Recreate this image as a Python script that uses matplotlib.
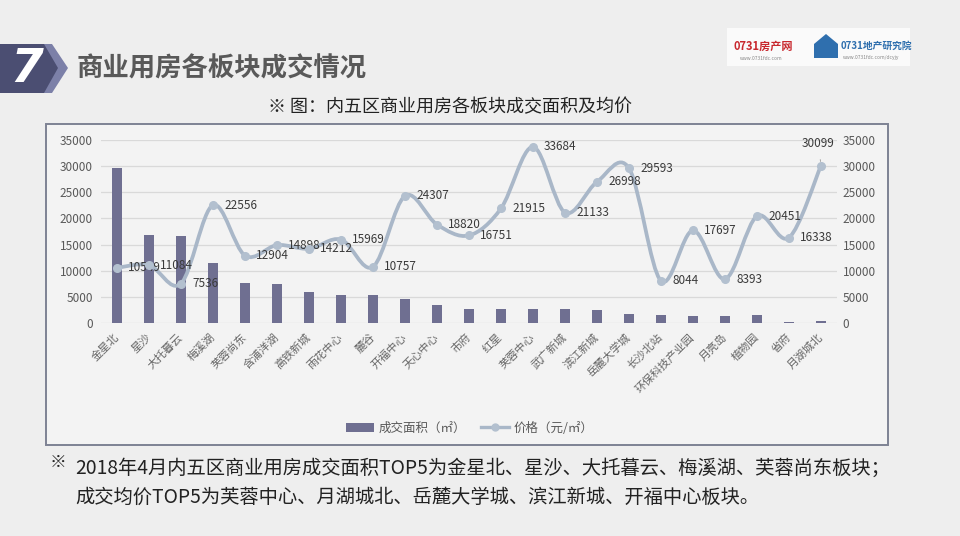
import matplotlib.pyplot as plt
import numpy as np
from matplotlib.path import Path
from matplotlib.patches import PathPatch, Rectangle, Polygon
from matplotlib.lines import Line2D

plt.rcParams['font.family'] = ['Noto Sans CJK SC', 'DejaVu Sans']

# data
areas = ['金星北', '星沙', '大托暮云', '梅溪湖', '芙蓉尚东', '含浦洋湖', '高铁新城',
         '雨花中心', '麓谷', '开福中心', '天心中心', '市府', '红星', '芙蓉中心',
         '武广新城', '滨江新城', '岳麓大学城', '长沙北站', '环保科技产业园',
         '月亮岛', '植物园', '省府', '月湖城北']
sold_area = [29600, 16800, 16600, 11500, 7600, 7400, 5900, 5300, 5300, 4600,
             3400, 2700, 2600, 2600, 2600, 2400, 1800, 1600, 1400, 1400, 1500,
             250, 300]
price = [10549, 11084, 7536, 22556, 12904, 14898, 14212, 15969, 10757, 24307,
         18820, 16751, 21915, 33684, 21133, 26998, 29593, 8044, 17697, 8393,
         20451, 16338, 30099]
y_ticks = [0, 5000, 10000, 15000, 20000, 25000, 30000, 35000]

BG = '#eeeeee'
BAR = '#6f6f91'
LINE = '#a9b7c8'
TXT = '#595959'

W, H = 960, 536
fig = plt.figure(figsize=(9.6, 5.36), dpi=100, facecolor=BG)

def px(x, y):
    return x / W, 1 - y / H

# chart frame
fig.patches.append(Rectangle(px(46, 445), 842 / W, 321 / H, transform=fig.transFigure,
                             facecolor='#f3f3f3', edgecolor='#7d8293', lw=1.4, zorder=-5))

# header badge
fig.patches.append(Polygon([px(0, 44), px(50, 44), px(66, 68), px(50, 93), px(0, 93)],
                           closed=True, transform=fig.transFigure,
                           facecolor='#4b4e72', edgecolor='none', zorder=-4))
fig.patches.append(Polygon([px(44, 44), px(52, 44), px(68, 68), px(52, 93), px(44, 93), px(58, 68)],
                           closed=True, transform=fig.transFigure,
                           facecolor='#7c80a8', edgecolor='none', zorder=-4))
fig.text(*px(27, 70), '7', color='white', fontsize=34, fontweight='bold', style='italic',
         ha='center', va='center', family='DejaVu Sans')
fig.text(*px(77, 69), '商业用房各板块成交情况', color=TXT, fontsize=19, fontweight='bold',
         ha='left', va='center')
fig.text(*px(450, 107), '※ 图：内五区商业用房各板块成交面积及均价', color='#222222',
         fontsize=13, ha='center', va='center')

# logos (approximation)
fig.patches.append(Rectangle(px(727, 66), 183 / W, 38 / H, transform=fig.transFigure,
                             facecolor='#fafafa', edgecolor='none', zorder=-4))
fig.text(*px(733, 46), '0731房产网', color='#c8282e', fontsize=8, fontweight='bold',
         ha='left', va='center')
fig.text(*px(740, 58), 'www.0731fdc.com', color='#888888', fontsize=3.5, ha='left', va='center')
fig.patches.append(Polygon([px(814, 58), px(814, 44), px(826, 34), px(838, 44), px(838, 58)],
                           closed=True, transform=fig.transFigure,
                           facecolor='#2f6fae', edgecolor='none', zorder=-3))
fig.text(*px(841, 46), '0731地产研究院', color='#2f6fae', fontsize=7, fontweight='bold',
         ha='left', va='center')
fig.text(*px(843, 58), 'www.0731fdc.com/dcyjy', color='#888888', fontsize=3.5,
         ha='left', va='center')

# main axes
l, b = px(101, 323)
r, t = px(837, 140)
ax = fig.add_axes([l, b, r - l, t - b])
ax.set_facecolor('none')
x = np.arange(len(areas))
ax.bar(x, sold_area, width=0.32, color=BAR, zorder=2)
ax.set_xlim(-0.5, len(areas) - 0.5)
ax.set_ylim(0, 35000)
ax.set_yticks(y_ticks)
ax.set_yticklabels([str(v) for v in y_ticks], color=TXT, fontsize=8.5)
ax.yaxis.grid(True, color='#d9d9d9', lw=0.9, zorder=0)
ax.set_axisbelow(True)
for s in ax.spines.values():
    s.set_visible(False)
ax.tick_params(axis='both', length=0)
ax.tick_params(axis='y', pad=6)
ax.set_xticks(x)
ax.set_xticklabels(areas, rotation=45, ha='right', va='center', rotation_mode='anchor',
                   color='#666666', fontsize=8)
ax.tick_params(axis='x', pad=9)

ax2 = ax.twinx()
ax2.set_ylim(0, 35000)
ax2.set_yticks(y_ticks)
ax2.set_yticklabels([str(v) for v in y_ticks], color=TXT, fontsize=8.5)
for s in ax2.spines.values():
    s.set_visible(False)
ax2.tick_params(axis='y', length=0, pad=4)

# smoothed price line (Catmull-Rom style bezier through the points)
pts = np.column_stack([x, price]).astype(float)
verts = [tuple(pts[0])]
codes = [Path.MOVETO]
n = len(pts)
for i in range(n - 1):
    p0 = pts[i - 1] if i > 0 else pts[i]
    p1, p2 = pts[i], pts[i + 1]
    p3 = pts[i + 2] if i + 2 < n else pts[i + 1]
    c1 = p1 + (p2 - p0) / 6
    c2 = p2 - (p3 - p1) / 6
    verts += [tuple(c1), tuple(c2), tuple(p2)]
    codes += [Path.CURVE4] * 3
ax2.add_patch(PathPatch(Path(verts, codes), facecolor='none', edgecolor=LINE, lw=2.7,
                        zorder=3, capstyle='round'))
ax2.plot(x, price, ls='none', marker='o', ms=5.5, color='#b3c0cf', zorder=4)

for i, v in enumerate(price):
    if i == len(price) - 1:
        ax2.annotate(str(v), (x[i], v), xytext=(-2, 16), textcoords='offset points',
                     ha='center', va='center', fontsize=8.5, color='#3a3a3a',
                     arrowprops=dict(arrowstyle='-', color='#999999', lw=0.6,
                                     shrinkA=5, shrinkB=3))
    else:
        ax2.annotate(str(v), (x[i], v), xytext=(8, 0), textcoords='offset points',
                     ha='left', va='center', fontsize=8.5, color='#3a3a3a')

handles = [Rectangle((0, 0), 1, 1, facecolor=BAR),
           Line2D([0], [0], color=LINE, lw=2.4, marker='o', ms=5, mfc='#b3c0cf', mec='#b3c0cf')]
fig.legend(handles, ['成交面积（㎡）', '价格（元/㎡）'], loc='center', bbox_to_anchor=px(470, 428),
           ncol=2, frameon=False, fontsize=9, labelcolor=TXT, handlelength=2.2,
           columnspacing=1.2, handletextpad=0.4)

# footnote
fig.text(*px(58, 462), '※', color='#222222', fontsize=12, ha='center', va='center')
fig.text(*px(75, 468), '2018年4月内五区商业用房成交面积TOP5为金星北、星沙、大托暮云、梅溪湖、芙蓉尚东板块；',
         color='#222222', fontsize=13.9, ha='left', va='center')
fig.text(*px(75, 497), '成交均价TOP5为芙蓉中心、月湖城北、岳麓大学城、滨江新城、开福中心板块。',
         color='#222222', fontsize=13.9, ha='left', va='center')

fig.savefig('out.png', dpi=100, facecolor=BG)
